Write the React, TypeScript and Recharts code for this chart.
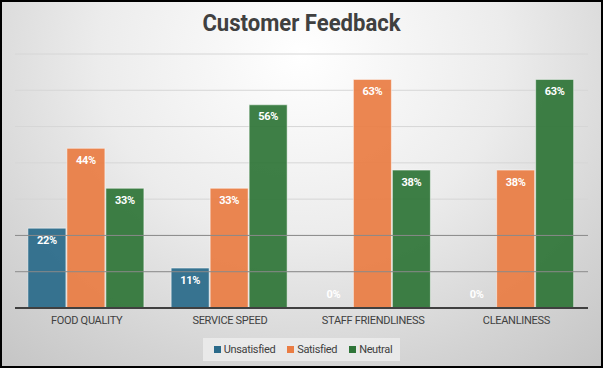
import {
  BarChart,
  Bar,
  XAxis,
  YAxis,
  CartesianGrid,
  LabelList,
  Legend,
  ReferenceLine,
} from "recharts";

const categories = ["FOOD QUALITY", "SERVICE SPEED", "STAFF FRIENDLINESS", "CLEANLINESS"];
const unsatisfied = [22, 11, 0, 0];
const satisfied = [44, 33, 63, 38];
const neutral = [33, 56, 38, 63];
const yTicks = [0, 10, 20, 30, 40, 50, 60, 70];
const darkTicks = [10, 20];

const seriesNames = ["Unsatisfied", "Satisfied", "Neutral"];
const colors = ["#2a6a8a", "#ea7d44", "#2f7538"];

const font = "'Roboto', 'Liberation Sans', sans-serif";
const textColor = "#404040";

const W = 603;
const H = 368;

// label inside bar top; zero values sit just above the axis
function BarLabel(props: any) {
  const { x, y, width, height, value } = props;
  const cx = Number(x) + Number(width) / 2;
  const h = Number(height) || 0;
  const ty = h > 1 ? Number(y) + 12 : Number(y) + h - 14;
  return (
    <text
      x={cx}
      y={ty}
      textAnchor="middle"
      dominantBaseline="central"
      fill="#ffffff"
      fontFamily={font}
      fontWeight="bold"
      fontSize={11}
      letterSpacing={-0.3}
    >
      {value}%
    </text>
  );
}

function LegendBox() {
  return (
    <div
      style={{
        height: 30,
        display: "flex",
        justifyContent: "center",
        alignItems: "flex-start",
      }}
    >
      <div
        style={{
          height: 23,
          padding: "0 8px 0 11px",
          background: "rgba(236,236,236,0.85)",
          display: "flex",
          alignItems: "center",
          gap: 12,
          fontFamily: font,
          fontSize: 11,
          letterSpacing: -0.35,
          color: textColor,
        }}
      >
        {seriesNames.map((n, i) => (
          <div key={n} style={{ display: "flex", alignItems: "center", gap: 3 }}>
            <span style={{ width: 7, height: 7, background: colors[i], display: "inline-block" }} />
            <span>{n}</span>
          </div>
        ))}
      </div>
    </div>
  );
}

export default function App() {
  const data = categories.map((c, i) => ({
    name: c,
    unsatisfied: unsatisfied[i],
    satisfied: satisfied[i],
    neutral: neutral[i],
  }));
  const keys = ["unsatisfied", "satisfied", "neutral"];

  return (
    <div
      style={{
        position: "absolute",
        left: 0,
        top: 0,
        width: W,
        height: H,
        background:
          "radial-gradient(ellipse 75% 110% at 50% 15%, #ffffff 0%, #ececec 45%, #d3d3d3 80%, #c6c6c6 100%)",
      }}
    >
      <div
        style={{
          position: "absolute",
          left: 0,
          top: 9,
          width: W,
          textAlign: "center",
          fontFamily: font,
          fontWeight: "bold",
          fontSize: 24,
          color: textColor,
          transform: "scaleX(0.92)",
        }}
      >
        Customer Feedback
      </div>
      <BarChart
        width={W}
        height={H}
        data={data}
        margin={{ top: 54, right: 15, left: 15, bottom: 0 }}
        barCategoryGap="9%"
        barGap={1}
      >
        <CartesianGrid vertical={false} stroke="#d6d6d6" strokeWidth={1} />
        {darkTicks.map((t) => (
          <ReferenceLine key={t} y={t} stroke="#8a8a8a" strokeWidth={1} />
        ))}
        <XAxis
          dataKey="name"
          height={30}
          tickLine={false}
          axisLine={{ stroke: "#404040", strokeWidth: 2 }}
          tick={{ fill: textColor, fontSize: 11, fontFamily: font, letterSpacing: -0.3 }}
          interval={0}
        />
        <YAxis hide domain={[0, 70]} ticks={yTicks} />
        <Legend verticalAlign="bottom" content={<LegendBox />} />
        {keys.map((k, i) => (
          <Bar
            key={k}
            dataKey={k}
            name={seriesNames[i]}
            fill={colors[i]}
            fillOpacity={0.93}
            stroke="rgba(255,255,255,0.5)"
            strokeWidth={1}
            minPointSize={0.01}
            isAnimationActive={false}
          >
            <LabelList dataKey={k} content={<BarLabel />} />
          </Bar>
        ))}
      </BarChart>
      <div
        style={{
          position: "absolute",
          left: 0,
          top: 0,
          width: W,
          height: H,
          boxSizing: "border-box",
          border: "2px solid #000",
          pointerEvents: "none",
        }}
      />
    </div>
  );
}
